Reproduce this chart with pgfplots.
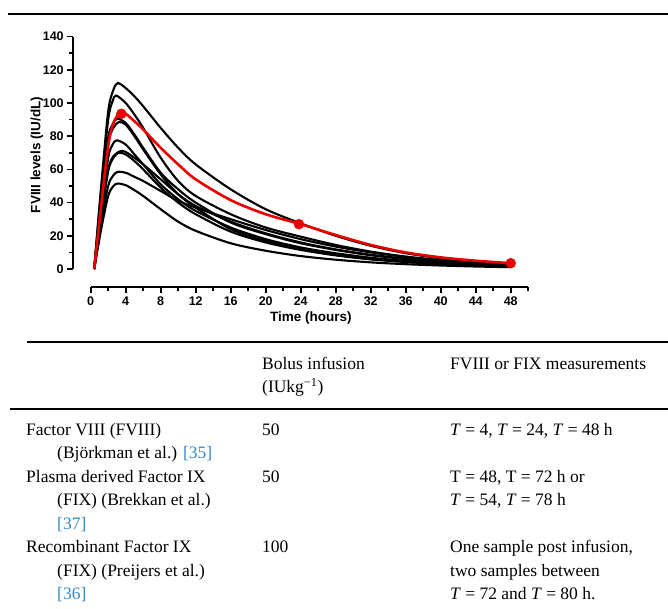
\documentclass[border=0pt]{standalone}
\usepackage{fontspec}
\setmainfont{Liberation Serif}
\newfontfamily\arialf{Liberation Sans}
\usepackage{pgfplots}
\pgfplotsset{compat=1.18}
\definecolor{citeblue}{RGB}{54,136,194}
\definecolor{pkred}{RGB}{235,0,0}

\pgfplotsset{
  pk/.style={black, line width=2.1pt, smooth, no markers},
}

\newcommand{\tabfont}{\fontsize{17.5}{20}\selectfont}
\newcommand{\labfont}{\arialf\bfseries\fontsize{13.5}{15}\selectfont}
\newcommand{\refno}[1]{\textcolor{citeblue}{[#1]}}

\begin{document}
\begin{tikzpicture}[x=1pt,y=1pt]
\useasboundingbox (0,0) rectangle (668,608);

% rule above the figure
\draw[line width=2pt] (8,594) -- (668,594);

\begin{axis}[
  at={(73.2pt,321pt)}, anchor=south west,
  scale only axis, width=455pt, height=250.4pt,
  xmin=-2, xmax=50, ymin=-10.84, ymax=140,
  clip=false,
  axis x line*=bottom, axis y line*=left,
  axis line style={draw=none},
  tick align=outside,
  tick style={black, line width=1.6pt},
  major tick length=6pt, minor tick length=4pt,
  xtick={0,4,...,48}, minor xtick={2,6,...,50},
  ytick={0,20,...,140}, minor ytick={10,30,...,130},
  /pgf/number format/assume math mode=true,
  tick label style={font=\arialf\bfseries\fontsize{12.5}{13}\selectfont},
  xlabel={Time (hours)},
  ylabel={FVIII levels (IU/dL)},
  every axis x label/.style={at={(axis description cs:0.5226,-0.124)}, anchor=center, font=\labfont},
  every axis y label/.style={at={(axis description cs:-0.0796,0.527)}, anchor=center, rotate=90, font=\labfont},
]
% axis lines, offset from the data as in the original
\draw[line width=2pt] (axis cs:0,-10.84) -- (axis cs:50,-10.84);
\draw[line width=2pt] (axis cs:-2,0) -- (axis cs:-2,140);

% individual profiles
\addplot[pk] coordinates {(0.4,0) (1.2,50) (2,95) (2.6,108) (3.1,112) (4,109) (5,104) (6,98) (8,85) (10,73) (12,63) (16,48) (20,36) (24,27.5) (28,20) (32,14) (36,9.5) (40,6.5) (44,4.5) (48,3)};
\addplot[pk] coordinates {(0.4,0) (1.2,48) (2,90) (2.5,101) (2.9,104.5) (4,100) (5,93) (6,85) (8,67) (10,53) (12,44) (16,33) (20,25) (24,19.5) (28,14.5) (32,10.5) (36,7.5) (40,5.3) (44,3.8) (48,2.7)};
\addplot[pk] coordinates {(0.4,0) (1.2,42) (2,79) (2.5,87) (3,90.5) (4,88) (5,81) (6,73) (8,58) (10,48) (12,40) (16,28) (20,21) (24,15.5) (28,11.5) (32,8.3) (36,6) (40,4.3) (44,3.1) (48,2.2)};
\addplot[pk] coordinates {(0.4,0) (1.2,40) (2,76) (2.6,85) (3.2,88.5) (4,87) (5,80) (6,72) (8,57) (10,45) (12,37) (16,24) (20,17) (24,12) (28,8.5) (32,6) (36,4.3) (40,3.1) (44,2.2) (48,1.6)};
\addplot[pk] coordinates {(0.4,0) (1.2,36) (2,67) (2.5,75) (3,77.5) (4,75) (5,69) (6,63) (8,51) (10,42) (12,35) (16,25) (20,18) (24,13) (28,9.5) (32,6.8) (36,4.9) (40,3.5) (44,2.5) (48,1.8)};
\addplot[pk] coordinates {(0.4,0) (1.2,32) (2,60) (2.6,68) (3.4,71) (4,70.5) (5,67) (6,63) (8,54) (10,45) (12,38) (16,28.5) (20,21.5) (24,16) (28,11.8) (32,8.6) (36,6.2) (40,4.5) (44,3.2) (48,2.3)};
\addplot[pk] coordinates {(0.4,0) (1.2,31) (2,59) (2.6,67) (3.2,70) (4,69) (5,65) (6,60) (8,49) (10,40) (12,33) (16,22.5) (20,16) (24,11.5) (28,8.2) (32,5.8) (36,4.2) (40,3) (44,2.1) (48,1.5)};
\addplot[pk] coordinates {(0.4,0) (1.2,27) (2,50) (2.6,56.5) (3.1,58.5) (4,58) (5,55.5) (6,53) (8,47) (10,41) (12,37) (16,30) (20,23.5) (24,18) (28,13.5) (32,10) (36,7.3) (40,5.3) (44,3.8) (48,2.8)};
\addplot[pk] coordinates {(0.4,0) (1.2,24) (2,44) (2.6,50) (3.1,51.5) (4,50.5) (5,47.5) (6,44) (8,36) (10,28.5) (12,23) (16,15.5) (20,11) (24,7.8) (28,5.6) (32,4) (36,2.9) (40,2.1) (44,1.5) (48,1.1)};

% mean profile with the three sampling times
\addplot[pkred, line width=2.6pt, smooth, no markers] coordinates {(0.4,0) (1.2,38) (2,74) (2.6,88) (3.4,94.5) (4,93.5) (5,89) (6,84) (8,73) (10,63) (12,54) (16,41.5) (20,33) (24,27) (28,20.5) (32,14.5) (36,10) (40,7) (44,5) (48,3.5)};
\addplot[pkred, only marks, mark=*, mark size=5pt] coordinates {(3.5,93.5) (23.8,27) (48,3.5)};
\end{axis}

% table
\draw[line width=1.5pt] (27,266) -- (668,266);
\draw[line width=2pt] (10,199) -- (668,199);

\begin{scope}[every node/.style={anchor=mid west, inner sep=0pt, font=\tabfont}]
\node at (262,241) {Bolus infusion};
\node at (262,217.5) {(IUkg\textsuperscript{−1})};
\node at (450,241) {FVIII or FIX measurements};

\node at (26,175) {Factor VIII (FVIII)};
\node at (57,151.5) {(Björkman et al.) \refno{35}};
\node at (262,175) {50};
\node at (450,175) {\textit{T} = 4, \textit{T} = 24, \textit{T} = 48 h};

\node at (26,128) {Plasma derived Factor IX};
\node at (57,104.5) {(FIX) (Brekkan et al.)};
\node at (57,81) {\refno{37}};
\node at (262,128) {50};
\node at (450,128) {T = 48, T = 72 h or};
\node at (450,104.5) {\textit{T} = 54, \textit{T} = 78 h};

\node at (26,57.5) {Recombinant Factor IX};
\node at (57,34) {(FIX) (Preijers et al.)};
\node at (57,10.5) {\refno{36}};
\node at (262,57.5) {100};
\node at (450,57.5) {One sample post infusion,};
\node at (450,34) {two samples between};
\node at (450,10.5) {\textit{T} = 72 and \textit{T} = 80 h.};
\end{scope}
\end{tikzpicture}
\end{document}
